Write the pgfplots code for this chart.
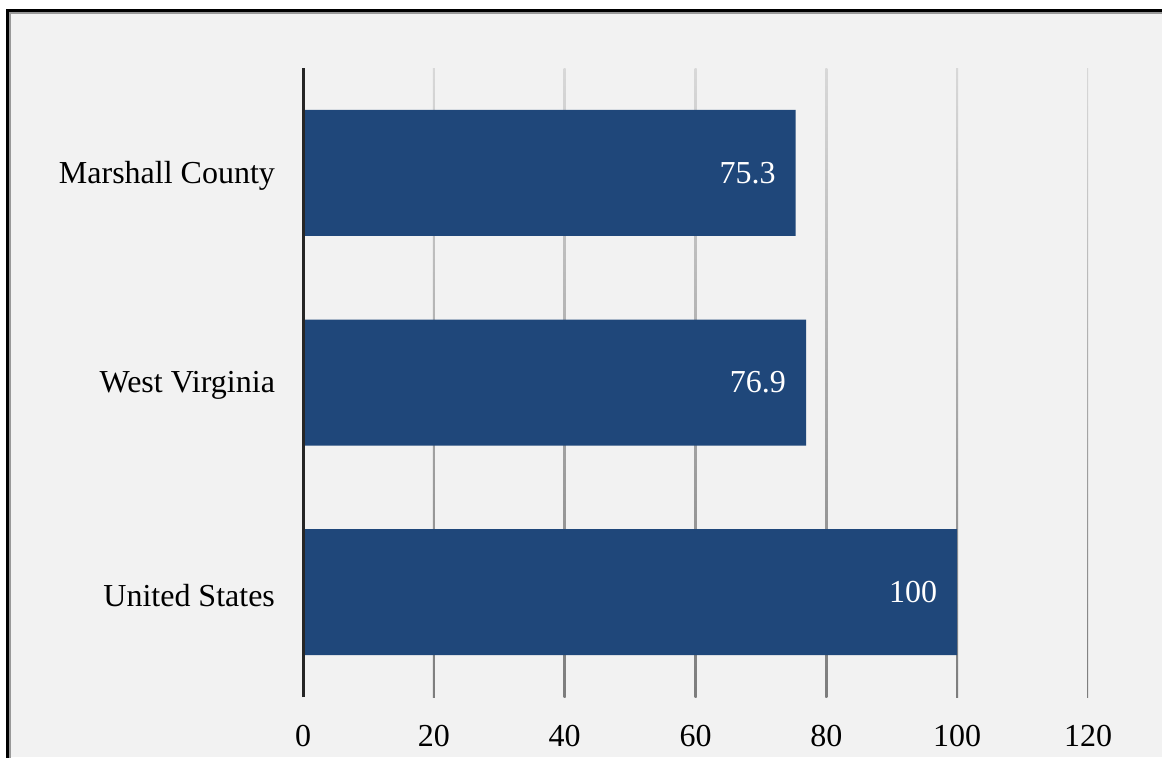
\documentclass[border=0pt]{standalone}
\usepackage{fontspec}
\setmainfont{Liberation Serif}
\usepackage{pgfplots}
\pgfplotsset{compat=1.18}
\definecolor{barblue}{RGB}{31,71,122}
\definecolor{panel}{RGB}{242,242,242}
\definecolor{gridtop}{RGB}{216,216,216}
\definecolor{gridbot}{RGB}{125,125,125}
\definecolor{axisdark}{RGB}{38,38,38}
\newcommand{\chartfont}{\fontsize{16}{19}\selectfont}
\begin{document}
\begin{tikzpicture}
\useasboundingbox (0,0) rectangle (581pt,378.5pt);
% panel and its frame
\fill[panel] (3.75pt,0) rectangle (581pt,373.25pt);
\draw[black!40, line width=0.6pt] (5pt,-1pt) -- (5pt,372pt) -- (582pt,372pt);
\draw[black, line width=1.5pt] (3.75pt,-1pt) -- (3.75pt,373.25pt) -- (582pt,373.25pt);
\begin{axis}[
  at={(151.5pt,30pt)}, anchor=south west,
  scale only axis, width=392.5pt, height=314.5pt,
  xbar, bar width=63pt,
  xmin=0, xmax=120, ymin=-0.5, ymax=2.5,
  xtick={0,20,...,120}, ytick={0,1,2},
  yticklabels={United States, West Virginia, Marshall County},
  axis y line=left, axis x line=bottom,
  x axis line style={draw=none, -},
  y axis line style={axisdark, line width=1.5pt, -},
  major tick length=0pt,
  axis on top,
  tick label style={font=\chartfont, black},
  xticklabel style={yshift=-10.5pt},
  yticklabel style={xshift=-10.5pt, yshift=-1.5pt},
  /pgf/number format/assume math mode=true,
  nodes near coords,
  nodes near coords style={white, anchor=east, xshift=-6.5pt, font=\chartfont},
]
% vertical grid lines that darken towards the bottom
\pgfplotsinvokeforeach{20,40,60,80,100,120}{
  \shade[top color=gridtop, bottom color=gridbot]
    ([xshift=-0.5pt]axis cs:#1,2.5) rectangle ([xshift=0.5pt]axis cs:#1,-0.5);
}
\addplot[fill=barblue, draw=none] coordinates {(100,0) (76.9,1) (75.3,2)};
\end{axis}
\end{tikzpicture}
\end{document}
